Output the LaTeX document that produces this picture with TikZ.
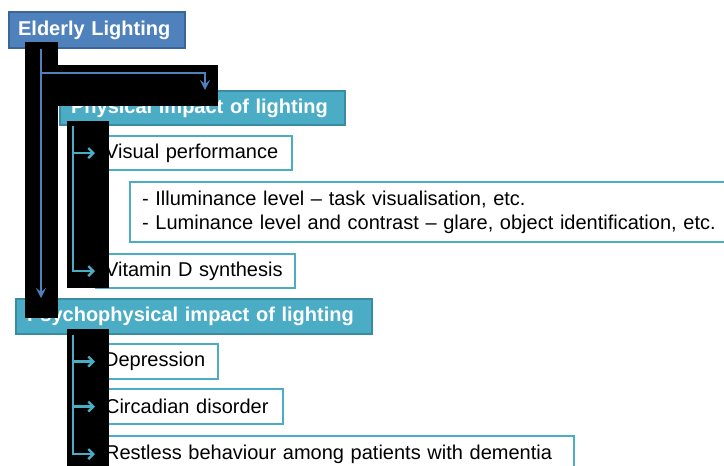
\documentclass[tikz,border=0pt]{standalone}
\usepackage{fontspec}
\setmainfont{Liberation Sans}
\usetikzlibrary{positioning,arrows.meta}
\definecolor{elderblue}{HTML}{4F81BD}
\definecolor{elderedge}{HTML}{3B6596}
\definecolor{topicteal}{HTML}{4BACC6}
\definecolor{topicedge}{HTML}{3A8CA3}

\begin{document}
\begin{tikzpicture}[x=1pt, y=-1pt, font=\fontsize{20}{24}\selectfont,
                    b/.style={line width=2.2pt, anchor=north west, inner ysep=0pt, align=left},
                    head/.style={b, text=white, font=\fontsize{20}{24}\selectfont\bfseries},
                    elderbox/.style={head, fill=elderblue, draw=elderedge},
                    topicbox/.style={head, fill=topicteal, draw=topicedge},
                    itembox/.style={b, fill=white, draw=topicteal},
                    mask/.style={fill=black},
                    trunk/.style={line width=2.4pt, elderblue, -{Stealth[length=10pt, width=10pt, inset=4pt]}},
                    twig/.style={line width=2.4pt, topicteal, -{Straight Barb[length=5pt, width=10pt]}}]
  \clip (0,0) rectangle (724,466);
  \fill[white] (0,0) rectangle (724,466);
  % boxes
  \node[elderbox, minimum height=36, inner xsep=9, text width=158] (elder) at (8,11) {Elderly Lighting};
  \node[topicbox, minimum height=34, inner xsep=11, text width=263] (phys) at (59,90) {Physical impact of lighting};
  \node[itembox, minimum height=34, inner xsep=9, text width=178] (vis) at (95,135) {Visual performance};
  \node[itembox, minimum height=60, inner xsep=12, text width=600] (detail) at (129,181)
       {- Illuminance level -- task visualisation, etc.\\- Luminance level and contrast -- glare, object identification, etc.};
  \node[itembox, minimum height=34, inner xsep=9, text width=181] (vitd) at (95,253) {Vitamin D synthesis};
  \node[topicbox, minimum height=35, inner xsep=11, text width=334] (psy) at (15,298) {Psychophysical impact of lighting};
  \node[itembox, minimum height=35, inner xsep=8, text width=106] (dep) at (95,343) {Depression};
  \node[itembox, minimum height=35, inner xsep=9, text width=169] (circ) at (95,388) {Circadian disorder};
  \node[itembox, minimum height=36, inner xsep=9, text width=460] (rest) at (95,435) {Restless behaviour among patients with dementia};
  % black blocks
  \fill[mask] (25,42) rectangle (58,318);
  \fill[mask] (25,65) rectangle (218,106);
  \fill[mask] (67,121) rectangle (109,288);
  \fill[mask] (67,329) rectangle (109,466);
  % connectors
  \coordinate (e0) at ([xshift=33pt]elder.south west);
  \draw[trunk] (e0) -- (e0 |- psy.north);
  \draw[trunk] ([yshift=-24pt]e0) -| ([xshift=146pt]phys.north west);
  \coordinate (p0) at ([xshift=14pt]phys.south west);
  \draw[twig] (p0) |- (vis.west);
  \draw[twig] (p0) |- (vitd.west);
  \coordinate (q0) at ([xshift=58pt]psy.south west);
  \draw[twig] (q0) |- (dep.west);
  \draw[twig] (q0) |- (circ.west);
  \draw[twig] (q0) |- (rest.west);
\end{tikzpicture}
\end{document}
